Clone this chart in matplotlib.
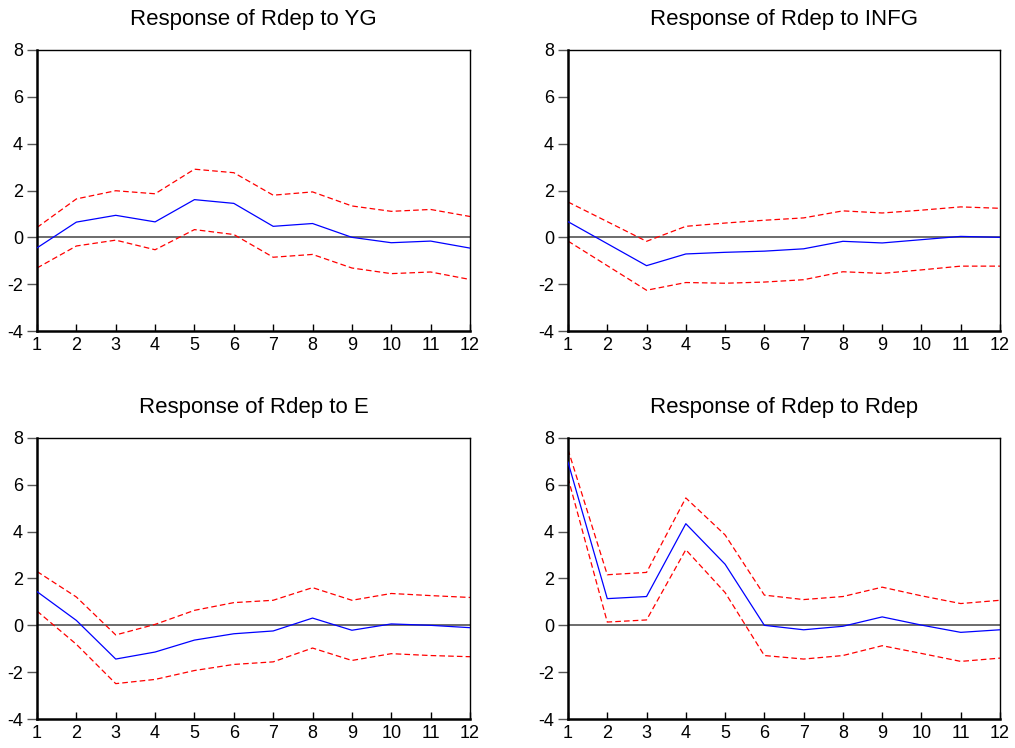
import matplotlib
matplotlib.use("Agg")
import matplotlib.pyplot as plt

plt.rcParams['font.family'] = ['Liberation Sans', 'DejaVu Sans']
plt.rcParams['axes.unicode_minus'] = False

periods = list(range(1, 13))

titles = ["Response of Rdep to YG", "Response of Rdep to INFG",
          "Response of Rdep to E", "Response of Rdep to Rdep"]

yg_resp = [-0.45, 0.65, 0.94, 0.66, 1.61, 1.45, 0.47, 0.59, 0.0, -0.23, -0.16, -0.46]
yg_up = [0.42, 1.64, 1.99, 1.86, 2.91, 2.76, 1.80, 1.94, 1.34, 1.11, 1.19, 0.89]
yg_lo = [-1.31, -0.37, -0.12, -0.53, 0.33, 0.12, -0.85, -0.73, -1.31, -1.55, -1.48, -1.80]

infg_resp = [0.67, -0.27, -1.21, -0.71, -0.64, -0.59, -0.49, -0.17, -0.24, -0.10, 0.04, 0.0]
infg_up = [1.51, 0.67, -0.17, 0.47, 0.61, 0.73, 0.83, 1.13, 1.04, 1.16, 1.30, 1.24]
infg_lo = [-0.16, -1.21, -2.26, -1.93, -1.96, -1.91, -1.81, -1.47, -1.54, -1.39, -1.23, -1.23]

e_resp = [1.44, 0.21, -1.44, -1.14, -0.63, -0.36, -0.24, 0.31, -0.21, 0.06, 0.0, -0.10]
e_up = [2.30, 1.21, -0.41, 0.04, 0.64, 0.97, 1.07, 1.61, 1.07, 1.36, 1.27, 1.19]
e_lo = [0.61, -0.81, -2.49, -2.31, -1.93, -1.67, -1.56, -0.97, -1.50, -1.21, -1.29, -1.34]

rdep_resp = [6.97, 1.14, 1.23, 4.34, 2.61, 0.0, -0.19, -0.04, 0.36, 0.01, -0.30, -0.19]
rdep_up = [7.51, 2.16, 2.26, 5.44, 3.86, 1.29, 1.10, 1.23, 1.63, 1.26, 0.93, 1.07]
rdep_lo = [6.30, 0.14, 0.23, 3.23, 1.40, -1.29, -1.44, -1.29, -0.87, -1.20, -1.54, -1.40]

series = [(yg_resp, yg_up, yg_lo), (infg_resp, infg_up, infg_lo),
          (e_resp, e_up, e_lo), (rdep_resp, rdep_up, rdep_lo)]

yticks = [-4, -2, 0, 2, 4, 6, 8]

fig = plt.figure(figsize=(10.15, 7.48), dpi=100)
W, H = 1015, 748
boxes = [(37, 50, 470, 331), (568, 50, 1000, 331),
         (37, 438, 470, 719), (568, 438, 1000, 719)]

for (l, t, r, b), title, (resp, up, lo) in zip(boxes, titles, series):
    ax = fig.add_axes([l / W, 1 - b / H, (r - l) / W, (b - t) / H])
    ax.axhline(0, color='#444444', lw=1.1, zorder=1)
    ax.plot(periods, up, color='red', lw=0.9, ls=(0, (4.5, 2.5)), zorder=2)
    ax.plot(periods, lo, color='red', lw=0.9, ls=(0, (4.5, 2.5)), zorder=2)
    ax.plot(periods, resp, color='blue', lw=0.9, zorder=3)
    ax.set_xlim(1, 12)
    ax.set_ylim(-4, 8)
    ax.set_xticks(periods)
    ax.set_yticks(yticks)
    ax.tick_params(axis='x', direction='in', length=5, labelsize=13, pad=4, width=1)
    ax.tick_params(axis='y', direction='out', length=7, labelsize=13, pad=3, width=1,
                   color='#555555', labelcolor='black')
    for side in ['left', 'bottom']:
        ax.spines[side].set_linewidth(1.8)
    for side in ['top', 'right']:
        ax.spines[side].set_linewidth(1.0)
    ax.set_title(title, fontsize=16, pad=18)

fig.savefig("out.png", dpi=100)
